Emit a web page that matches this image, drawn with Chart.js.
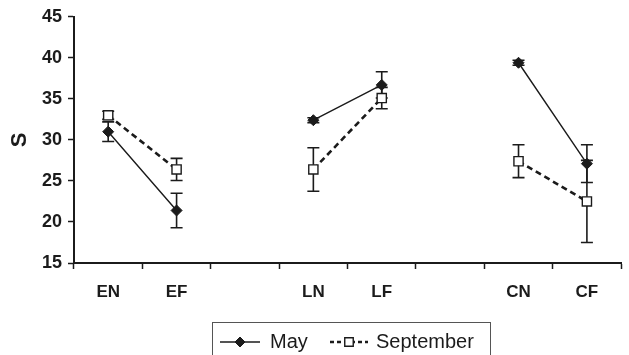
<!DOCTYPE html>
<html>
<head>
<meta charset="utf-8">
<script src="https://cdn.jsdelivr.net/npm/chart.js@4/dist/chart.umd.min.js"></script>
<style>
  html, body { margin: 0; padding: 0; background: #fff; }
  #wrap { width: 629px; height: 355px; }
</style>
</head>
<body>
<div id="wrap"><canvas id="chart" width="629" height="355"></canvas></div>
<script>
// data
var categories = ['EN', 'EF', '', 'LN', 'LF', '', 'CN', 'CF'];
var mayValues = [31.0, 21.4, null, 32.4, 36.7, null, 39.4, 27.1];
var mayErrors = [1.2, 2.1, null, 0.3, 1.6, null, 0.3, 2.3];
var sepValues = [33.0, 26.4, null, 26.4, 35.1, null, 27.4, 22.5];
var sepErrors = [0.5, 1.35, null, 2.65, 1.3, null, 2.0, 5.0];
var yTicks = [15, 20, 25, 30, 35, 40, 45];

var ink = '#1b1b1b';
var fontFamily = '"Liberation Sans", Arial, Helvetica, sans-serif';

// error bars, drawn under the lines and markers
var errorBars = {
  id: 'errorBars',
  beforeDatasetsDraw: function(chart) {
    var ctx = chart.ctx;
    var x = chart.scales.x, y = chart.scales.y;
    ctx.save();
    ctx.strokeStyle = ink;
    ctx.lineWidth = 1.6;
    ctx.setLineDash([]);
    chart.data.datasets.forEach(function(ds) {
      ds.data.forEach(function(v, i) {
        var e = ds.errors[i];
        if (v == null || !e) return;
        var px = x.getPixelForValue(i);
        var top = y.getPixelForValue(v + e);
        var bot = y.getPixelForValue(v - e);
        ctx.beginPath();
        ctx.moveTo(px, top); ctx.lineTo(px, bot);
        ctx.moveTo(px - 6, top); ctx.lineTo(px + 6, top);
        ctx.moveTo(px - 6, bot); ctx.lineTo(px + 6, bot);
        ctx.stroke();
      });
    });
    ctx.restore();
  }
};

// boxed legend at the bottom, line + marker for each series
var boxLegend = {
  id: 'boxLegend',
  afterDraw: function(chart) {
    var ctx = chart.ctx;
    ctx.save();
    ctx.strokeStyle = '#555';
    ctx.lineWidth = 1;
    ctx.strokeRect(212.5, 322.5, 278, 40);
    var cy = 342;
    var items = [
      { ds: chart.data.datasets[0], x0: 220, x1: 260, tx: 270, dash: [] },
      { ds: chart.data.datasets[1], x0: 330, x1: 368, tx: 376, dash: [4, 3] }
    ];
    items.forEach(function(it) {
      var ds = it.ds;
      ctx.strokeStyle = ink;
      ctx.lineWidth = ds.borderWidth;
      ctx.setLineDash(it.dash);
      ctx.beginPath();
      ctx.moveTo(it.x0, cy); ctx.lineTo(it.x1, cy);
      ctx.stroke();
      ctx.setLineDash([]);
      ctx.fillStyle = ds.pointBackgroundColor;
      ctx.strokeStyle = ds.pointBorderColor;
      ctx.lineWidth = ds.pointBorderWidth;
      Chart.helpers.drawPoint(ctx, {
        pointStyle: ds.pointStyle,
        radius: ds.pointRadius - 0.5,
        borderWidth: ds.pointBorderWidth
      }, (it.x0 + it.x1) / 2, cy);
      ctx.fillStyle = ink;
      ctx.font = '20px ' + fontFamily;
      ctx.textBaseline = 'middle';
      ctx.fillText(ds.label, it.tx, cy);
    });
    ctx.restore();
  }
};

new Chart(document.getElementById('chart'), {
  type: 'line',
  data: {
    labels: categories,
    datasets: [{
      label: 'May',
      data: mayValues,
      errors: mayErrors,
      borderColor: ink,
      borderWidth: 1.4,
      pointStyle: 'rectRot',
      pointRadius: 5.5,
      pointBackgroundColor: ink,
      pointBorderColor: ink,
      pointBorderWidth: 1,
      spanGaps: false,
      tension: 0
    }, {
      label: 'September',
      data: sepValues,
      errors: sepErrors,
      borderColor: ink,
      borderWidth: 2.6,
      borderDash: [6, 4],
      pointStyle: 'rect',
      pointRadius: 6.5,
      pointBackgroundColor: '#fff',
      pointBorderColor: ink,
      pointBorderWidth: 1.4,
      spanGaps: false,
      tension: 0
    }]
  },
  options: {
    responsive: false,
    animation: false,
    layout: { padding: { top: 16, right: 0, left: 0, bottom: 0 } },
    plugins: {
      legend: { display: false },
      tooltip: { enabled: false }
    },
    scales: {
      x: {
        offset: true,
        grid: {
          offset: true,
          drawOnChartArea: false,
          drawTicks: true,
          tickLength: 6,
          tickWidth: 1.5,
          color: ink
        },
        border: { display: true, color: ink, width: 2 },
        ticks: {
          color: ink,
          padding: 13,
          maxRotation: 0,
          autoSkip: false,
          font: { family: fontFamily, size: 17, weight: 'bold' }
        },
        afterFit: function(scale) { scale.height = 92; }
      },
      y: {
        min: 15,
        max: 45,
        afterBuildTicks: function(scale) {
          scale.ticks = yTicks.map(function(v) { return { value: v }; });
        },
        grid: {
          drawOnChartArea: false,
          drawTicks: true,
          tickLength: 6,
          tickWidth: 1.5,
          color: ink
        },
        border: { display: true, color: ink, width: 2 },
        ticks: {
          color: ink,
          padding: 6,
          font: { family: fontFamily, size: 18, weight: 'bold' }
        },
        title: {
          display: true,
          text: 'S',
          color: ink,
          padding: { top: 7, bottom: 0 },
          font: { family: fontFamily, size: 22, weight: 'bold' }
        },
        afterFit: function(scale) { scale.width = 74; }
      }
    }
  },
  plugins: [errorBars, boxLegend]
});
</script>
</body>
</html>
